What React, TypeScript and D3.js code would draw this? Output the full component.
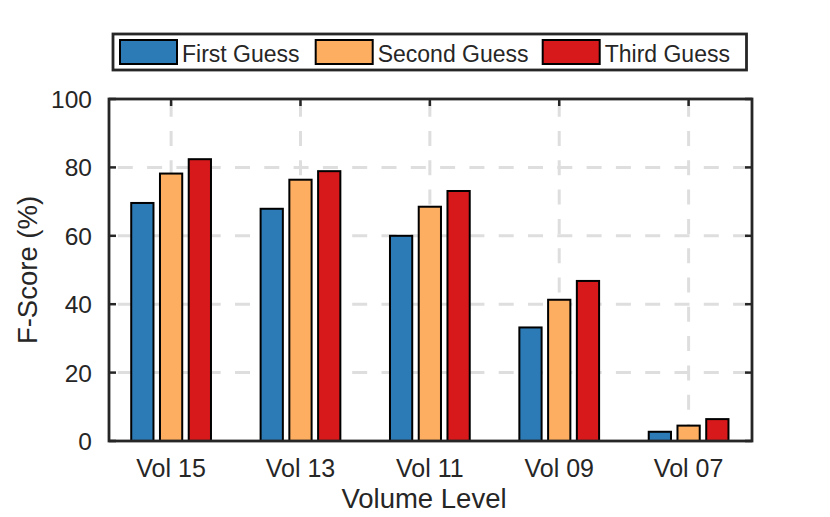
import React from "react";
import * as d3 from "d3";

const categories = ["Vol 15", "Vol 13", "Vol 11", "Vol 09", "Vol 07"];
const seriesNames = ["First Guess", "Second Guess", "Third Guess"];
const firstGuess = [69.6, 67.9, 60.0, 33.2, 2.7];
const secondGuess = [78.2, 76.4, 68.5, 41.3, 4.5];
const thirdGuess = [82.4, 78.9, 73.1, 46.8, 6.4];
const yTicks = [0, 20, 40, 60, 80, 100];
const colors = ["#2c7bb6", "#fdae61", "#d7191c"];

const W = 830;
const H = 517;
const left = 109;
const right = 752;
const top = 99;
const bottom = 441;
const ink = "#262626";
const font = "'Liberation Sans', Arial, Helvetica, sans-serif";

export default function App() {
  const series = [firstGuess, secondGuess, thirdGuess];
  const x = d3.scaleLinear().domain([0.52, 5.49]).range([left, right]);
  const y = d3.scaleLinear().domain([0, 100]).range([bottom, top]);
  const unit = x(1) - x(0);
  const offsets = [-0.2222, 0, 0.2222];
  const barW = 0.172 * unit;
  const dash = "15,14.3";
  const gridColor = "#dedede";

  const legendX = [120, 315.7, 542.7];

  return (
    <svg
      width={W}
      height={H}
      style={{ position: "absolute", left: 0, top: 0, background: "#fff" }}
      fontFamily={font}
    >
      <rect x={0} y={0} width={W} height={H} fill="#fff" />
      {/* grid */}
      {yTicks
        .filter((t) => t > 0 && t < 100)
        .map((t) => (
          <line
            key={"gy" + t}
            x1={left}
            x2={right}
            y1={y(t)}
            y2={y(t)}
            stroke={gridColor}
            strokeWidth={3}
            strokeDasharray={dash}
            strokeDashoffset={-8.8}
          />
        ))}
      {categories.map((c, i) => (
        <line
          key={"gx" + c}
          x1={x(i + 1)}
          x2={x(i + 1)}
          y1={bottom}
          y2={top}
          stroke={gridColor}
          strokeWidth={3}
          strokeDasharray={dash}
          strokeDashoffset={-2}
        />
      ))}
      {/* ticks */}
      {yTicks.map((t) => (
        <g key={"ty" + t}>
          <line x1={left} x2={left + 7} y1={y(t)} y2={y(t)} stroke={ink} strokeWidth={2.5} />
          <line x1={right} x2={right - 7} y1={y(t)} y2={y(t)} stroke={ink} strokeWidth={2.5} />
          <text
            x={92}
            y={y(t) + 9}
            textAnchor="end"
            fontSize={24.5}
            fill={ink}
          >
            {t}
          </text>
        </g>
      ))}
      {categories.map((c, i) => (
        <g key={"tx" + c}>
          <line x1={x(i + 1)} x2={x(i + 1)} y1={top} y2={top + 7} stroke={ink} strokeWidth={2.5} />
          <line x1={x(i + 1)} x2={x(i + 1)} y1={bottom} y2={bottom - 7} stroke={ink} strokeWidth={2.5} />
          <text x={x(i + 1)} y={477} textAnchor="middle" fontSize={25} fill={ink}>
            {c}
          </text>
        </g>
      ))}
      {/* bars */}
      {series.map((vals, s) =>
        vals.map((v, i) => {
          const cx = x(i + 1 + offsets[s]);
          return (
            <rect
              key={"b" + s + "-" + i}
              x={cx - barW / 2}
              y={y(v)}
              width={barW}
              height={y(0) - y(v)}
              fill={colors[s]}
              stroke="#000"
              strokeWidth={2}
            />
          );
        })
      )}
      {/* axes box */}
      <rect
        x={left}
        y={top}
        width={right - left}
        height={bottom - top}
        fill="none"
        stroke={ink}
        strokeWidth={2.8}
      />
      {/* axis labels */}
      <text x={424} y={507.5} textAnchor="middle" fontSize={27.5} fill={ink}>
        Volume Level
      </text>
      <text
        transform={`translate(36.5,${(top + bottom) / 2}) rotate(-90)`}
        textAnchor="middle"
        fontSize={27.5}
        fill={ink}
      >
        F-Score (%)
      </text>
      {/* legend */}
      <rect x={113} y={34} width={633.5} height={36} fill="#fff" stroke={ink} strokeWidth={2.8} />
      {seriesNames.map((n, s) => (
        <g key={"lg" + n}>
          <rect
            x={legendX[s]}
            y={40}
            width={57}
            height={24}
            fill={colors[s]}
            stroke="#000"
            strokeWidth={2}
          />
          <text x={legendX[s] + 62} y={62} fontSize={23} fill={ink}>
            {n}
          </text>
        </g>
      ))}
    </svg>
  );
}
